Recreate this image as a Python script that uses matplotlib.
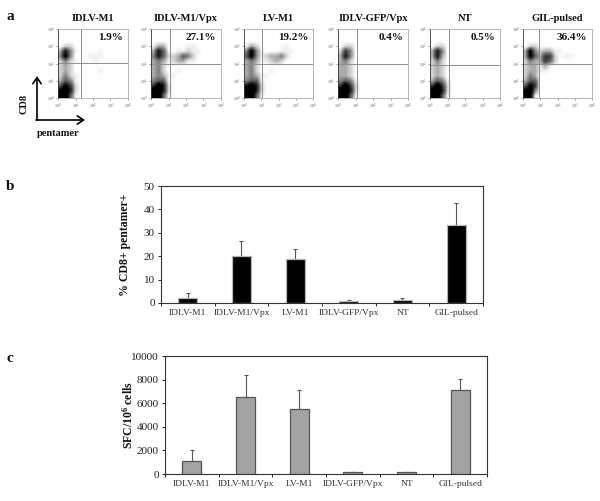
import numpy as np
import matplotlib
matplotlib.use("Agg")
import matplotlib.pyplot as plt
from matplotlib.colors import LinearSegmentedColormap

plt.rcParams['font.family'] = ['Liberation Serif', 'DejaVu Serif']
plt.rcParams['mathtext.default'] = 'regular'

W, H = 600, 501

# === Data ===
groups = ["IDLV-M1", "IDLV-M1/Vpx", "LV-M1", "IDLV-GFP/Vpx", "NT", "GIL-pulsed"]
percent_labels = ["1.9%", "27.1%", "19.2%", "0.4%", "0.5%", "36.4%"]

pentamer_mean = [2.3, 20.0, 18.8, 0.9, 1.3, 33.5]
pentamer_err = [2.0, 6.3, 4.4, 0.2, 0.7, 9.3]
sfc_mean = [1100, 6500, 5550, 150, 150, 7150]
sfc_err = [900, 1900, 1550, 30, 30, 900]

# box left, right, top, bottom and gate x, y in pixels
flow_boxes = [
    (58, 128, 29, 98, 81, 63),
    (151, 221, 29, 98, 170, 64),
    (244, 313, 29, 98, 262, 64),
    (338, 408, 29, 98, 357, 64),
    (430, 500, 29, 98, 449, 65),
    (523, 592, 29, 98, 539, 64),
]

# dot density read by eye, 0-9, top row first
flow_idlv_m1 = ["00000000000000", "00000000000000", "00000000000000",
                "02200000000000", "37410000100000", "48400011100000",
                "24210001000000", "23200000000000", "23200000100000",
                "24210000000000", "35410000000000", "58620000000000",
                "89720000000000", "99510000000000"]
flow_idlv_vpx = ["00000000000000", "00000000000000", "00000000000000",
                 "13300001100000", "37510112110000", "47522354200000",
                 "34312331100000", "34200000000000", "34200100000000",
                 "34311000000000", "45510000000000", "69720000000000",
                 "99720000000000", "99510000000000"]
flow_lv_m1 = ["00000000000000", "00000000000000", "00000000000000",
              "13200000100000", "48410001110000", "58412334200000",
              "34311232000000", "34200000000000", "34200100000000",
              "34311000000000", "45510000000000", "79720000000000",
              "99720000000000", "99510000000000"]
flow_idlv_gfp = ["00000000000000", "00000000000000", "00000000000000",
                 "02200000000000", "26400000000000", "37400000000000",
                 "34200000000000", "33200000000000", "33200000000000",
                 "33200000000000", "45410000000000", "69620000000000",
                 "99720000000000", "99510000000000"]
flow_nt = ["00000000000000", "00000000000000", "00000000000000",
           "02200000000000", "37400000000000", "37300000000000",
           "24200000000000", "23200000000000", "23200000000000",
           "23200000000000", "35410000000000", "69620000000000",
           "99720000000000", "99510000000000"]
flow_gil = ["00000000000000", "00000000000000", "00000000000000",
            "02200000000000", "38423311000000", "38536620110000",
            "24336520000000", "23313100000000", "23311000000000",
            "24300000000000", "35500000000000", "58600000000000",
            "89400000000000", "98100000000000"]
flow_grids = [flow_idlv_m1, flow_idlv_vpx, flow_lv_m1, flow_idlv_gfp, flow_nt, flow_gil]

decade_ticks = [0, 1, 2, 3, 4]
decade_labels = ["$10^0$", "$10^1$", "$10^2$", "$10^3$", "$10^4$"]

dots_cmap = LinearSegmentedColormap.from_list("dots", ["#ffffff", "#8a8a8a", "#3a3a3a", "#000000"])


def px_axes(fig, left, right, top, bottom):
    return fig.add_axes([left / W, 1 - bottom / H, (right - left) / W, (bottom - top) / H])


def flow_panel(fig, box, grid, title, pct):
    left, right, top, bottom, gate_x, gate_y = box
    ax = px_axes(fig, left, right, top, bottom)
    density = np.array([[int(c) for c in row] for row in grid], dtype=float) / 9
    ax.imshow(density ** 1.5, extent=(0, 4, 0, 4), cmap=dots_cmap, vmin=0, vmax=0.8,
              aspect="auto", interpolation="bilinear")
    ax.axvline((gate_x - left) / (right - left) * 4, color="#8f8f8f", lw=0.7)
    ax.axhline((bottom - gate_y) / (bottom - top) * 4, color="#8f8f8f", lw=0.7)
    ax.set_xlim(0, 4)
    ax.set_ylim(0, 4)
    ax.set_xticks(decade_ticks, decade_labels)
    ax.set_yticks(decade_ticks, decade_labels)
    ax.tick_params(length=1.5, width=0.4, labelsize=3, pad=1, colors="#555555")
    for side, spine in ax.spines.items():
        spine.set_linewidth(0.6)
        spine.set_color("#333333" if side == "left" else "#a8a8a8")
    ax.text(0.93, 0.88, pct, transform=ax.transAxes, ha="right", va="center",
            fontsize=8, fontweight="bold", color="#111111")
    ax.text(0.5, 1.09, title, transform=ax.transAxes, ha="center", va="bottom",
            fontsize=7.5, fontweight="bold", color="#111111", clip_on=False)


def bar_panel(fig, box, means, errs, ymax, yticks, color, edge, ylabel, labelpad):
    ax = px_axes(fig, *box)
    x = np.arange(len(groups))
    ax.bar(x, means, width=0.35, color=color, edgecolor=edge, linewidth=0.9, zorder=2)
    ax.errorbar(x, means, yerr=[np.zeros(len(errs)), errs], fmt="none", ecolor="#555555",
                elinewidth=0.8, capsize=1.6, capthick=0.8, zorder=1)
    ax.set_xlim(-0.5, 5.5)
    ax.set_ylim(0, ymax)
    ax.set_yticks(yticks)
    ax.set_xticks(x, groups)
    ax.set_xticks(np.arange(-0.5, 6), minor=True)
    ax.tick_params(axis="x", which="major", length=0, labelsize=6.8, pad=4.5, labelcolor="#333333")
    ax.tick_params(axis="x", which="minor", length=2.5, width=0.7, color="#222222")
    ax.tick_params(axis="y", length=2.5, width=0.7, labelsize=8, pad=2, color="#222222", labelcolor="#222222")
    for side, spine in ax.spines.items():
        spine.set_linewidth(0.8)
        spine.set_color("#333333")
    ax.set_ylabel(ylabel, fontsize=8.5, fontweight="bold", color="#111111", labelpad=labelpad)
    return ax


fig = plt.figure(figsize=(W / 100, H / 100), dpi=100)

for box, grid, title, pct in zip(flow_boxes, flow_grids, groups, percent_labels):
    flow_panel(fig, box, grid, title, pct)

bar_panel(fig, (161, 483, 186, 303), pentamer_mean, pentamer_err, 50, [0, 10, 20, 30, 40, 50],
          "#000000", "#b5b5b5", "% CD8+ pentamer+", 9)
bar_panel(fig, (165, 487, 356, 474), sfc_mean, sfc_err, 10000, [0, 2000, 4000, 6000, 8000, 10000],
          "#a3a3a3", "#555555", "SFC/10$^{6}$ cells", -3)

# overlay for panel letters and the CD8 / pentamer arrows
over = fig.add_axes([0, 0, 1, 1])
over.set_xlim(0, W)
over.set_ylim(H, 0)
over.axis("off")
over.patch.set_alpha(0)
for letter, lx, ly in [("a", 10, 16), ("b", 10, 186), ("c", 10, 359)]:
    over.text(lx, ly, letter, fontsize=11, fontweight="bold", ha="center", va="center", color="#111111")
over.annotate("", xy=(37, 76), xytext=(37, 120),
              arrowprops=dict(arrowstyle="->,head_length=0.45,head_width=0.3", lw=1.2, color="black", shrinkA=0, shrinkB=0))
over.annotate("", xy=(85, 120), xytext=(36, 120),
              arrowprops=dict(arrowstyle="->,head_length=0.45,head_width=0.3", lw=1.2, color="black", shrinkA=0, shrinkB=0))
over.text(24, 104, "CD8", rotation=90, fontsize=7.5, fontweight="bold", ha="center", va="center", color="#111111")
over.text(58, 133, "pentamer", fontsize=7.5, fontweight="bold", ha="center", va="center", color="#111111")

fig.savefig("out.png", dpi=100)
